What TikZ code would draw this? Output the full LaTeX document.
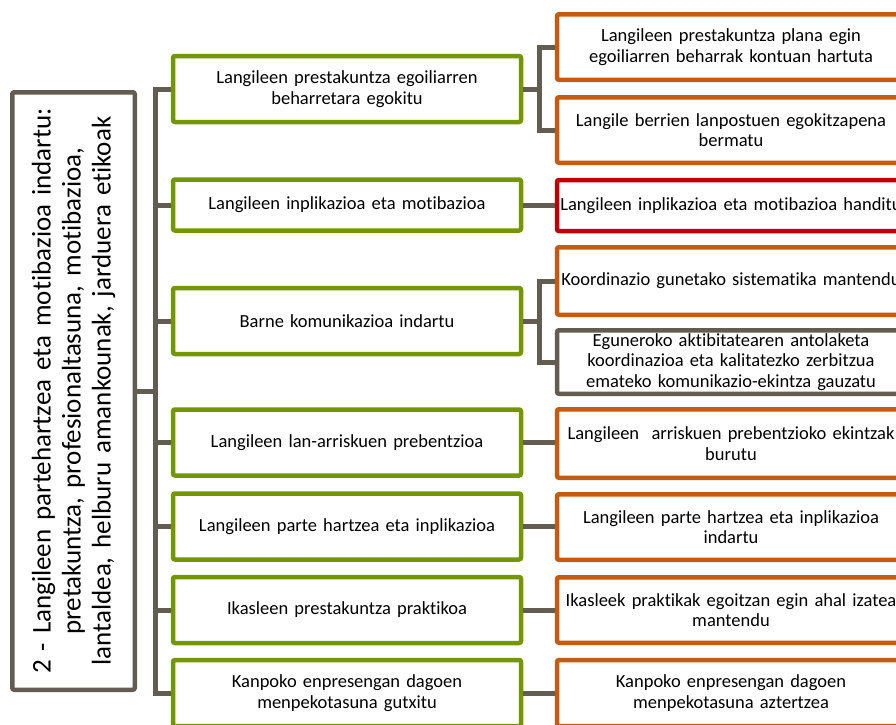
\documentclass[tikz,border=0pt]{standalone}
\usepackage{fontspec}
\setmainfont{Carlito}[Ligatures=NoCommon]
\usepackage{tikz}
\usetikzlibrary{calc}
\definecolor{goalgreen}{RGB}{116,150,0}
\definecolor{actorange}{RGB}{197,90,17}
\definecolor{actred}{RGB}{192,0,0}
\definecolor{linkgray}{RGB}{99,92,80}
\tikzset{
  basebox/.style={draw, line width=4.5pt, rounded corners=2pt, fill=white,
    align=center, inner sep=2pt, minimum height=66pt, text width=344pt,
    font=\fontsize{18.5}{20.5}\selectfont}
}
\tikzset{
  goalbox/.style={basebox, draw=goalgreen},
  actbox/.style={basebox, draw=actorange},
  redbox/.style={basebox, draw=actred},
  graybox/.style={basebox, draw=linkgray}
}
\tikzset{
  link/.style={draw=linkgray, line width=5pt}
}

\begin{document}
\begin{tikzpicture}[x=1pt, y=-1pt]
      \useasboundingbox (0,0) rectangle (896,724);
      % main objective
      \node[draw=linkgray, line width=4.5pt, rounded corners=2pt, rotate=90,
        minimum width=597.5pt, minimum height=122.5pt, inner sep=0pt,
        text width=590pt, align=center, font=\fontsize{27}{30}\selectfont]
        (main) at (73.5,391) {2 - Langileen partehartzea eta motibazioa indartu:\\
        pretakuntza, profesionaltasuna, motibazioa,\\
        lantaldea, helburu amankounak, jarduera etikoak};
      % goals
      \node[goalbox] (g1) at (347,89) {Langileen prestakuntza egoiliarren\\ beharretara egokitu};
      \node[goalbox, minimum height=51pt] (g2) at (347,205) {Langileen inplikazioa eta motibazioa};
      \node[goalbox] (g3) at (347,321) {Barne komunikazioa indartu};
      \node[goalbox] (g4) at (347,442.5) {Langileen lan-arriskuen prebentzioa};
      \node[goalbox] (g5) at (347,526.5) {Langileen parte hartzea eta inplikazioa};
      \node[goalbox] (g6) at (347,610) {Ikasleen prestakuntza praktikoa};
      \node[goalbox] (g7) at (347,693) {Kanpoko enpresengan dagoen\\ menpekotasuna gutxitu};
      % actions
      \node[actbox, minimum height=65.5pt] (a1) at (731,47) {Langileen prestakuntza plana egin\\ egoiliarren beharrak kontuan hartuta};
      \node[actbox, minimum height=65.5pt] (a2) at (731,130) {Langile berrien lanpostuen egokitzapena\\ bermatu};
      \node[redbox, minimum height=51pt] (a3) at (731,205.5) {Langileen inplikazioa eta motibazioa handitu};
      \node[actbox, minimum height=67.5pt] (a4) at (731,281) {Koordinazio gunetako sistematika mantendu};
      \node[graybox, minimum height=63.5pt] (a5) at (731,362) {Eguneroko aktibitatearen antolaketa\\ koordinazioa eta kalitatezko zerbitzua\\ emateko komunikazio-ekintza gauzatu};
      \node[actbox, minimum height=68.5pt] (a6) at (731,443.5) {Langileen~ arriskuen prebentzioko ekintzak\\ burutu};
      \node[actbox, minimum height=65.5pt] (a7) at (731,527) {Langileen parte hartzea eta inplikazioa\\ indartu};
      \node[actbox, minimum height=65.5pt] (a8) at (731,610) {Ikasleek praktikak egoitzan egin ahal izatea\\ mantendu};
      \node[actbox] (a9) at (731,693) {Kanpoko enpresengan dagoen\\ menpekotasuna aztertzea};
      % trunk
      \coordinate (tr) at (155,0);
      \coordinate (br) at (539,0);
      \draw[link] (g1.west) -- (g1.west -| tr) -- (g7.west -| tr) -- (g7.west);
      \draw[link] (main.south) -- (main.south -| tr);
      \foreach \g in {g2,g3,g4,g5,g6}
        \draw[link] (\g.west) -- (\g.west -| tr);
      % brackets to the actions
      \draw[link] (g1.east) -- (g1.east -| br);
      \draw[link] (a1.west) -- (a1.west -| br) -- (a2.west -| br) -- (a2.west);
      \draw[link] (g3.east) -- (g3.east -| br);
      \draw[link] (a4.west) -- (a4.west -| br) -- (a5.west -| br) -- (a5.west);
      % single actions
      \draw[link] (g2.east) -- (g2.east -| a3.west);
      \foreach \g/\a in {g4/a6,g5/a7,g6/a8,g7/a9}
        \draw[link] (\g.east) -- (\g.east -| \a.west);
    \end{tikzpicture}
\end{document}
